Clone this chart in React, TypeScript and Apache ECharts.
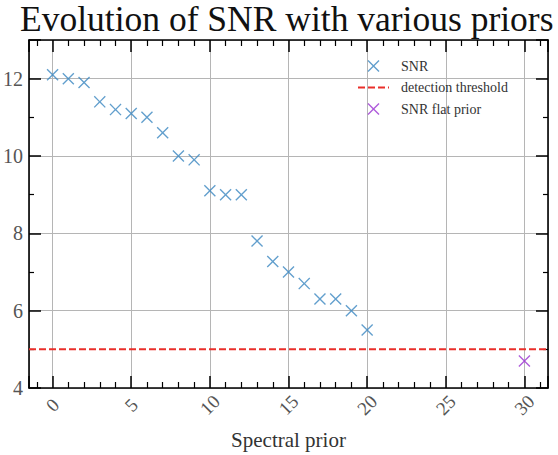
import React, { useEffect, useRef } from "react";
import * as echarts from "echarts";

// Spectral prior index and the SNR obtained with each prior
const priors = [0, 1, 2, 3, 4, 5, 6, 7, 8, 9, 10, 11, 12, 13, 14, 15, 16, 17, 18, 19, 20];
const snr = [12.1, 12.0, 11.9, 11.4, 11.2, 11.1, 11.0, 10.6, 10.0, 9.9, 9.1, 9.0, 9.0, 7.8, 7.27, 7.0, 6.7, 6.3, 6.3, 6.0, 5.5];

// Result with a flat prior
const flatPriors = [30];
const flatSnr = [4.7];

// Detection threshold
const threshold = 5;

// Axis extents
const xRange = [-1.5, 31.5];
const yRange = [4, 13];

const FONT = "'Liberation Serif', 'DejaVu Serif', serif";
const BLUE = "#3b87c0";
const RED = "#ea2f2a";
const PURPLE = "#9b32d2";

// Filled "x" marker
const CROSS =
  "path://M0,0.8L0.8,0L5,4.2L9.2,0L10,0.8L5.8,5L10,9.2L9.2,10L5,5.8L0.8,10L0,9.2L4.2,5Z";

const tickCommon = {
  inside: true,
  length: 12,
  lineStyle: { color: "#000", width: 1.5 },
};
const lineCommon = { show: true, onZero: false, lineStyle: { color: "#000", width: 1.6 } };

export default function App() {
  const ref = useRef<HTMLDivElement>(null);

  useEffect(() => {
    if (!ref.current) return;
    const chart = echarts.init(ref.current, undefined, { renderer: "svg" });

    const xBase = {
      type: "value",
      min: xRange[0],
      max: xRange[1],
      minInterval: 5,
      maxInterval: 5,
      axisLine: lineCommon,
      axisTick: tickCommon,
      minorTick: { show: true, splitNumber: 5, length: 6, lineStyle: { color: "#000", width: 1.2 } },
    };
    const yBase = {
      type: "value",
      min: yRange[0],
      max: yRange[1],
      minInterval: 2,
      maxInterval: 2,
      axisLine: lineCommon,
      axisTick: tickCommon,
      minorTick: { show: true, splitNumber: 2, length: 5, lineStyle: { color: "#000", width: 1.2 } },
    };

    chart.setOption({
      animation: false,
      backgroundColor: "#fff",
      title: {
        text: "Evolution of SNR with various priors",
        left: 15,
        top: -4,
        textStyle: { fontFamily: FONT, fontSize: 35.5, fontWeight: "normal", color: "#111" },
      },
      grid: { left: 28, right: 10, top: 40, bottom: 67, containLabel: false },
      legend: {
        orient: "vertical",
        left: 352,
        top: 54,
        itemWidth: 31,
        itemHeight: 12,
        itemGap: 7.5,
        textStyle: { fontFamily: FONT, fontSize: 14, color: "#333", lineHeight: 14, padding: [0, 0, 0, 7] },
        data: [
          "SNR",
          { name: "detection threshold", itemStyle: { opacity: 0 } },
          "SNR flat prior",
        ],
      },
      xAxis: [
        {
          ...xBase,
          position: "bottom",
          splitLine: { show: true, lineStyle: { color: "#b5b5b5", width: 1 } },
          axisLabel: {
            rotate: 45,
            margin: 17,
            align: "center",
            verticalAlign: "middle",
            fontFamily: FONT,
            fontSize: 19,
            color: "#555",
            formatter: (v: number) => (v % 5 === 0 ? String(v) : ""),
          },
          name: "Spectral prior",
          nameLocation: "middle",
          nameGap: 41,
          nameTextStyle: { fontFamily: FONT, fontSize: 21, color: "#333" },
        },
        {
          ...xBase,
          position: "top",
          splitLine: { show: false },
          axisLabel: { show: false },
        },
      ],
      yAxis: [
        {
          ...yBase,
          position: "left",
          splitLine: { show: true, lineStyle: { color: "#b5b5b5", width: 1 } },
          axisLabel: {
            margin: 6,
            fontFamily: FONT,
            fontSize: 20,
            color: "#555",
            formatter: (v: number) => (v % 2 === 0 ? String(v) : ""),
          },
        },
        {
          ...yBase,
          position: "right",
          splitLine: { show: false },
          axisLabel: { show: false },
        },
      ],
      series: [
        {
          name: "SNR",
          type: "scatter",
          xAxisIndex: 0,
          yAxisIndex: 0,
          symbol: CROSS,
          symbolSize: 12,
          itemStyle: { color: BLUE },
          data: priors.map((p, i) => [p, snr[i]]),
          z: 5,
        },
        {
          name: "detection threshold",
          type: "line",
          xAxisIndex: 0,
          yAxisIndex: 0,
          symbol: "none",
          lineStyle: { color: RED, width: 2, type: [7, 3] },
          itemStyle: { color: RED },
          data: [
            [xRange[0], threshold],
            [xRange[1], threshold],
          ],
          z: 4,
        },
        {
          name: "SNR flat prior",
          type: "scatter",
          xAxisIndex: 0,
          yAxisIndex: 0,
          symbol: CROSS,
          symbolSize: 12,
          itemStyle: { color: PURPLE },
          data: flatPriors.map((p, i) => [p, flatSnr[i]]),
          z: 5,
        },
      ],
    });

    return () => chart.dispose();
  }, []);

  return (
    <div
      ref={ref}
      style={{ position: "absolute", left: 0, top: 0, width: 558, height: 455 }}
    />
  );
}
